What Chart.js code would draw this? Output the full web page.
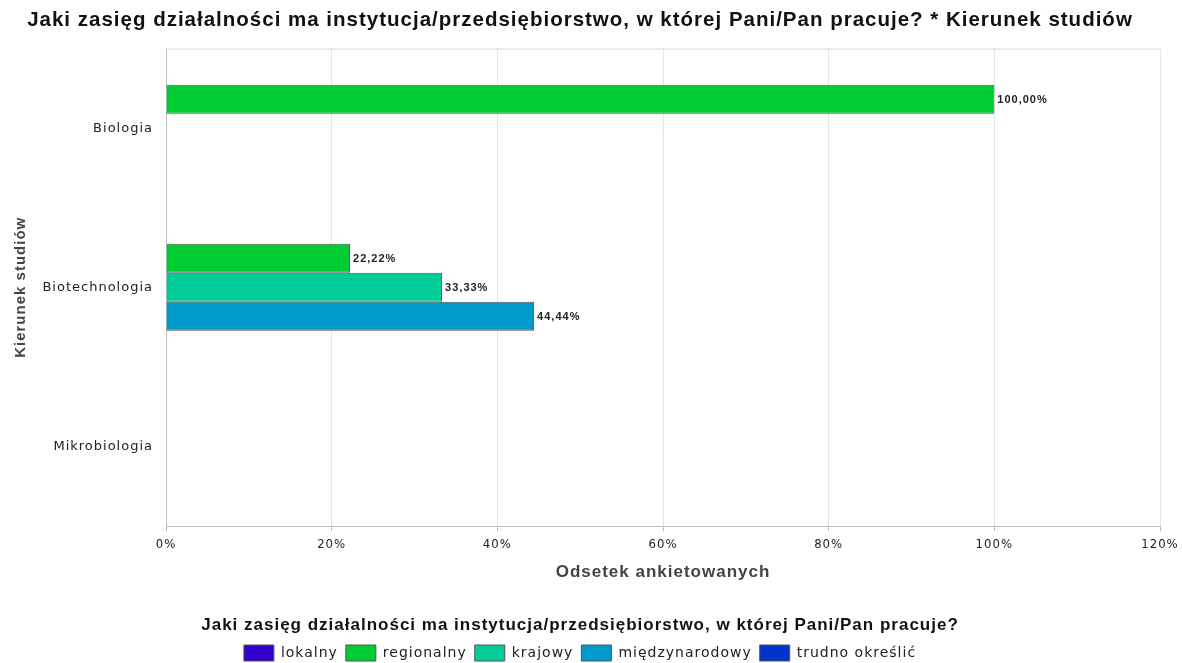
<!DOCTYPE html>
<html><head><meta charset="utf-8">
<script src="https://cdn.jsdelivr.net/npm/chart.js@4/dist/chart.umd.min.js"></script>
<style>html,body{margin:0;padding:0;background:#fff}#wrap{width:1182px;height:663px}</style>
</head><body><div id="wrap"><canvas id="c"></canvas></div>
<script>
const categories = ["Biologia", "Biotechnologia", "Mikrobiologia"];
const seriesNames = ["lokalny", "regionalny", "krajowy", "międzynarodowy", "trudno określić"];
const lokalny = [0, 0, 0];
const regionalny = [100, 22.22, 0];
const krajowy = [0, 33.33, 0];
const miedzynarodowy = [0, 44.44, 0];
const trudno = [0, 0, 0];
const xTicks = [0, 20, 40, 60, 80, 100, 120];
const colors = ["#3300cc", "#00cc33", "#00cc99", "#0099cc", "#0033cc"];
const seriesValues = [lokalny, regionalny, krajowy, miedzynarodowy, trudno];

const spacingPlugin = {
  id: 'spacing',
  beforeUpdate(chart) { chart.ctx.letterSpacing = '1px'; },
  beforeDraw(chart) { chart.ctx.letterSpacing = '1px'; }
};

const labelPlugin = {
  id: 'labels',
  afterDatasetsDraw(chart) {
    const ctx = chart.ctx;
    ctx.save();
    ctx.font = 'bold 11px "Liberation Sans", Arial, sans-serif';
    ctx.fillStyle = '#222';
    ctx.textBaseline = 'middle';
    ctx.textAlign = 'left';
    chart.data.datasets.forEach((ds, i) => {
      const meta = chart.getDatasetMeta(i);
      meta.data.forEach((bar, j) => {
        const v = ds.data[j];
        if (v > 0) ctx.fillText(v.toFixed(2).replace('.', ',') + '%', bar.x + 3, bar.y + 1);
      });
    });
    ctx.restore();
  },
  beforeDatasetsDraw(chart) {
    const a = chart.chartArea, ctx = chart.ctx;
    ctx.save();
    ctx.strokeStyle = '#d9d9d9';
    ctx.lineWidth = 1;
    ctx.beginPath();
    ctx.moveTo(a.left, a.top + 0.5);
    ctx.lineTo(a.right, a.top + 0.5);
    ctx.stroke();
    ctx.restore();
  }
};

new Chart(document.getElementById('c'), {
  type: 'bar',
  data: {
    labels: categories,
    datasets: seriesNames.map((n, i) => ({
      label: n,
      data: seriesValues[i],
      backgroundColor: colors[i],
      borderColor: '#555555',
      borderWidth: 1,
      categoryPercentage: 0.91,
      barPercentage: 1.0
    }))
  },
  options: {
    indexAxis: 'y',
    responsive: true,
    maintainAspectRatio: false,
    animation: false,
    layout: { padding: { left: 0, right: 22, top: 0, bottom: -8 } },
    scales: {
      x: {
        min: 0, max: 120,
        afterBuildTicks(scale) { scale.ticks = xTicks.map(v => ({ value: v })); },
        ticks: {
          callback: v => v + '%',
          font: { family: '"Liberation Sans Narrow", "DejaVu Sans Condensed", sans-serif', size: 13 },
          color: '#222', padding: 6, maxRotation: 0
        },
        grid: { color: '#e6e6e6', tickLength: 5, tickColor: '#bbb' },
        border: { color: '#bbb' },
        title: {
          display: true, text: 'Odsetek ankietowanych',
          font: { family: '"Liberation Sans", Arial, sans-serif', size: 17, weight: 'bold' },
          color: '#444', padding: { top: 0, bottom: 22 }
        },
        afterFit(scale) { scale.height = 78.6; scale.paddingRight = 0; scale.paddingLeft = 0; }
      },
      y: {
        ticks: {
          font: { family: '"DejaVu Sans", sans-serif', size: 13 },
          color: '#222', padding: 5
        },
        grid: { display: false },
        border: { color: '#bbb' },
        title: {
          display: true, text: 'Kierunek studiów',
          font: { family: '"Liberation Sans", Arial, sans-serif', size: 15, weight: 'bold' },
          color: '#444', padding: { top: 12, bottom: 0 }
        },
        afterFit(scale) { scale.width = 166; }
      }
    },
    plugins: {
      title: {
        display: true,
        text: 'Jaki zasięg działalności ma instytucja/przedsiębiorstwo, w której Pani/Pan pracuje? * Kierunek studiów',
        font: { family: '"Liberation Sans", Arial, sans-serif', size: 20.5, weight: 'bold' },
        color: '#111',
        padding: { top: 8, bottom: 16 }
      },
      legend: {
        position: 'bottom',
        labels: {
          boxWidth: 30, boxHeight: 16,
          font: { family: '"DejaVu Sans", sans-serif', size: 14 },
          color: '#222', padding: 8
        },
        title: {
          display: true,
          text: 'Jaki zasięg działalności ma instytucja/przedsiębiorstwo, w której Pani/Pan pracuje?',
          font: { family: '"Liberation Sans", Arial, sans-serif', size: 17, weight: 'bold' },
          color: '#111', padding: { top: 12, bottom: 0 }
        }
      },
      tooltip: { enabled: false }
    }
  },
  plugins: [spacingPlugin, labelPlugin]
});
</script>
</body></html>
